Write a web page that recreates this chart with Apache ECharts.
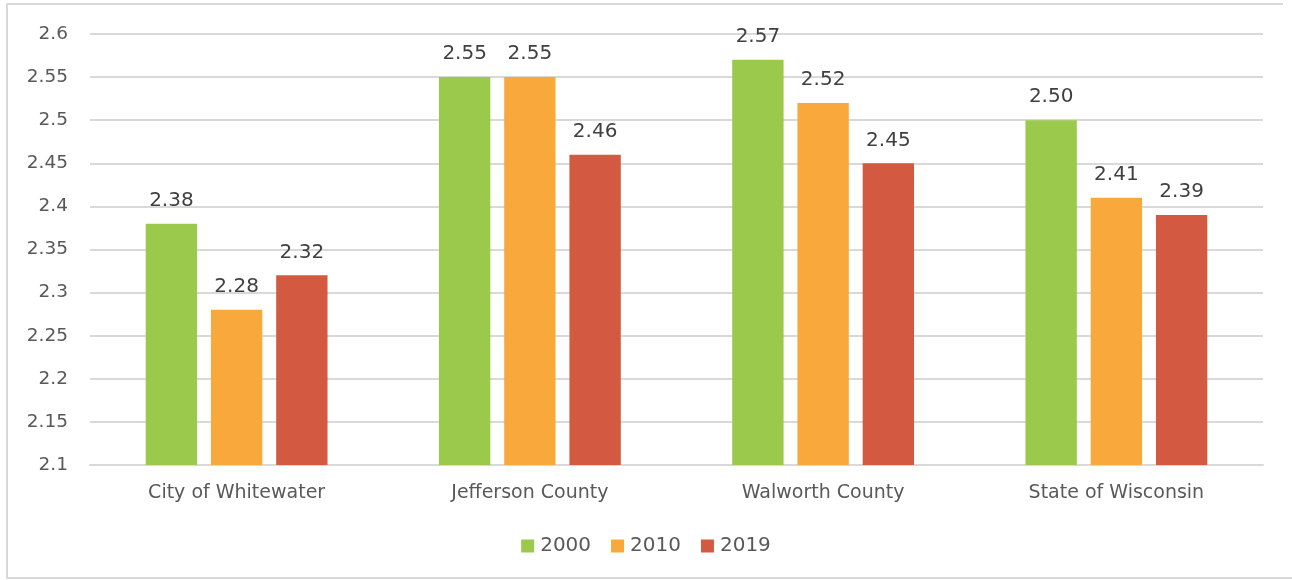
<!DOCTYPE html>
<html>
<head>
<meta charset="utf-8">
<script src="https://cdn.jsdelivr.net/npm/echarts@6/dist/echarts.min.js"></script>
<style>
html,body{margin:0;padding:0;background:#fff;}
#chart{width:1292px;height:580px;}
</style>
</head>
<body>
<div id="chart"></div>
<script>
const categories = ['City of Whitewater', 'Jefferson County', 'Walworth County', 'State of Wisconsin'];
const seriesNames = ['2000', '2010', '2019'];
const values2000 = [2.38, 2.55, 2.57, 2.50];
const values2010 = [2.28, 2.55, 2.52, 2.41];
const values2019 = [2.32, 2.46, 2.45, 2.39];
const colors = ['#9BC94B', '#F9A93B', '#D35A41'];

const font = '"DejaVu Sans", sans-serif';
const chart = echarts.init(document.getElementById('chart'));
const allValues = [values2000, values2010, values2019];
chart.setOption({
  animation: false,
  textStyle: { fontFamily: font },
  grid: { left: 90, right: 29, top: 34, bottom: 115, containLabel: false },
  graphic: [{
    type: 'polyline',
    shape: { points: [[1283, 4], [7, 4], [7, 578], [1292, 578]] },
    style: { stroke: '#d9d9d9', lineWidth: 2, fill: null },
    silent: true
  }],
  legend: {
    data: seriesNames,
    top: 531,
    left: 'center',
    itemWidth: 13,
    itemHeight: 13,
    itemGap: 20,
    icon: 'rect',
    textStyle: { fontFamily: font, fontSize: 20, color: '#595959', padding: [0, 0, 0, 1] }
  },
  xAxis: {
    type: 'category',
    data: categories,
    axisLine: { lineStyle: { color: '#d9d9d9', width: 2 } },
    axisTick: { show: false },
    axisLabel: { fontFamily: font, fontSize: 19, color: '#595959', margin: 19 }
  },
  yAxis: {
    type: 'value',
    min: 2.1,
    max: 2.6,
    interval: 0.05,
    axisLine: { show: false },
    axisTick: { show: false },
    splitLine: { lineStyle: { color: '#d9d9d9', width: 2 } },
    axisLabel: {
      fontFamily: font, fontSize: 18.5, color: '#595959', margin: 22,
      formatter: v => String(Math.round(v * 100) / 100)
    }
  },
  series: seriesNames.map((name, i) => ({
    name: name,
    type: 'bar',
    data: allValues[i],
    barGap: '27%',
    barCategoryGap: '38%',
    itemStyle: { color: colors[i] },
    label: {
      show: true,
      position: 'top',
      distance: 13,
      fontFamily: font,
      fontSize: 20,
      color: '#404040',
      formatter: p => p.value.toFixed(2)
    }
  }))
});
</script>
</body>
</html>
